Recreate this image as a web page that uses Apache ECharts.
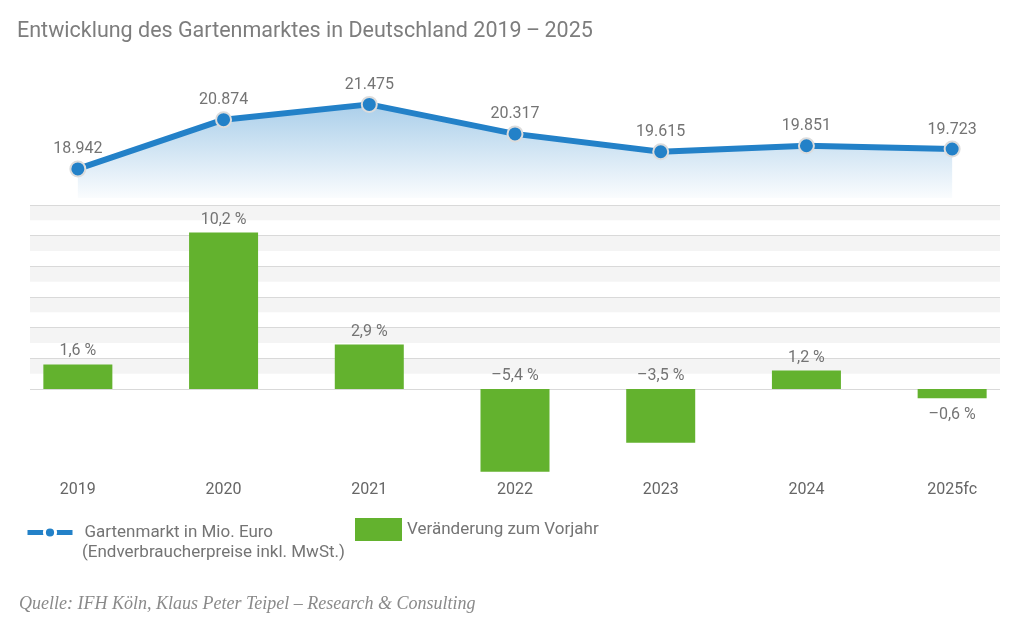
<!DOCTYPE html>
<html>
<head>
<meta charset="utf-8">
<script src="https://cdn.jsdelivr.net/npm/echarts@6/dist/echarts.min.js"></script>
<style>
html,body{margin:0;padding:0;background:#fff;}
#c{width:1030px;height:632px;}
</style>
</head>
<body>
<div id="c"></div>
<script>
var categories = ['2019', '2020', '2021', '2022', '2023', '2024', '2025fc'];
var marketValues = [18942, 20874, 21475, 20317, 19615, 19851, 19723];
var changeValues = [1.6, 10.2, 2.9, -5.4, -3.5, 1.2, -0.6];
var lineName = 'Gartenmarkt in Mio. Euro';
var lineName2 = '(Endverbraucherpreise inkl. MwSt.)';
var barName = 'Veränderung zum Vorjahr';
var titleText = 'Entwicklung des Gartenmarktes in Deutschland 2019\u2009–\u20092025';
var sourceText = 'Quelle: IFH Köln, Klaus Peter Teipel – Research & Consulting';

var FONT = 'Roboto, "Liberation Sans", sans-serif';
var GREY = '#747474';
var BLUE = '#2381c8';
var GREEN = '#63b22e';

function fmtThousands(v) {
  return String(v).replace(/\B(?=(\d{3})+(?!\d))/g, '.');
}
function fmtPct(v) {
  return (v < 0 ? '–' : '') + Math.abs(v).toFixed(1).replace('.', ',') + ' %';
}

var chart = echarts.init(document.getElementById('c'), null, {renderer: 'canvas'});

var barData = changeValues.map(function (v) {
  var below = v < 0 && v > -1;
  return {
    value: v,
    label: {position: below ? 'bottom' : 'top', distance: below ? 9 : 5}
  };
});

var option = {
  backgroundColor: '#fff',
  animation: false,
  title: {
    text: titleText,
    left: 12, top: 16,
    textStyle: {fontFamily: FONT, fontSize: 21.5, fontWeight: 'normal', color: '#7d7d7d'}
  },
  legend: [{
    left: 20, top: 519,
    itemWidth: 45, itemHeight: 14, itemGap: 0,
    data: [{name: lineName, itemStyle: {borderColor: '#fff', borderWidth: 3}}],
    lineStyle: {width: 5},
    textStyle: {fontFamily: FONT, fontSize: 17, color: GREY, padding: [0, 0, 0, 7]},
    selectedMode: false
  }, {
    left: 350, top: 513,
    itemWidth: 47, itemHeight: 23, itemGap: 0,
    icon: 'rect',
    data: [barName],
    textStyle: {fontFamily: FONT, fontSize: 17, color: GREY},
    selectedMode: false
  }],
  graphic: [{
    type: 'text', left: 82, top: 544,
    style: {text: lineName2, font: '17px ' + FONT, fill: GREY}
  }, {
    type: 'text', left: 19, top: 595,
    style: {text: sourceText, font: 'italic 18px "Liberation Serif", "DejaVu Serif", serif', fill: '#8a8a8a'}
  }],
  grid: [
    {left: 30, right: 30, top: 205, height: 184},
    {left: 5, right: 5, top: 205, height: 276},
    {left: 5, right: 5, top: 91, height: 107}
  ],
  xAxis: [
    {gridIndex: 0, type: 'value', min: 0, max: 1, show: false},
    {gridIndex: 1, type: 'category', data: categories,
      axisLine: {show: false}, axisTick: {show: false}, splitLine: {show: false},
      axisLabel: {margin: 1, fontFamily: FONT, fontSize: 16, color: '#666666'}},
    {gridIndex: 2, type: 'category', data: categories, show: false}
  ],
  yAxis: [
    {gridIndex: 0, type: 'value', min: 0, max: 12, interval: 2, z: 2,
      axisLine: {show: false}, axisTick: {show: false}, axisLabel: {show: false},
      splitLine: {show: true, lineStyle: {color: '#d9d9d9', width: 1.2}}},
    {gridIndex: 0, type: 'value', min: 0, max: 12, interval: 1, z: 0,
      axisLine: {show: false}, axisTick: {show: false}, axisLabel: {show: false},
      splitLine: {show: false},
      splitArea: {show: true, areaStyle: {color: ['#ffffff', '#f4f4f4']}}},
    {gridIndex: 1, type: 'value', min: -6, max: 12, show: false},
    {gridIndex: 2, type: 'value', min: 17800, max: 22000, show: false}
  ],
  series: [{
    name: barName,
    type: 'bar',
    xAxisIndex: 1, yAxisIndex: 2,
    barWidth: 69,
    itemStyle: {color: GREEN},
    label: {show: true, fontFamily: FONT, fontSize: 16, color: GREY, formatter: function (p) { return fmtPct(p.value); }},
    data: barData,
    z: 3
  }, {
    name: lineName,
    type: 'line',
    xAxisIndex: 2, yAxisIndex: 3,
    data: marketValues,
    symbol: 'circle',
    symbolSize: 15,
    lineStyle: {color: BLUE, width: 6},
    itemStyle: {color: BLUE, borderColor: '#dcdcdc', borderWidth: 2},
    areaStyle: {
      color: new echarts.graphic.LinearGradient(0, 0, 0, 1, [
        {offset: 0, color: 'rgba(35,129,200,0.55)'},
        {offset: 1, color: 'rgba(35,129,200,0.03)'}
      ])
    },
    label: {show: true, position: 'top', distance: 3, fontFamily: FONT, fontSize: 16, color: GREY,
      formatter: function (p) { return fmtThousands(p.value); }},
    z: 4
  }]
};
chart.setOption(option);
</script>
</body>
</html>
